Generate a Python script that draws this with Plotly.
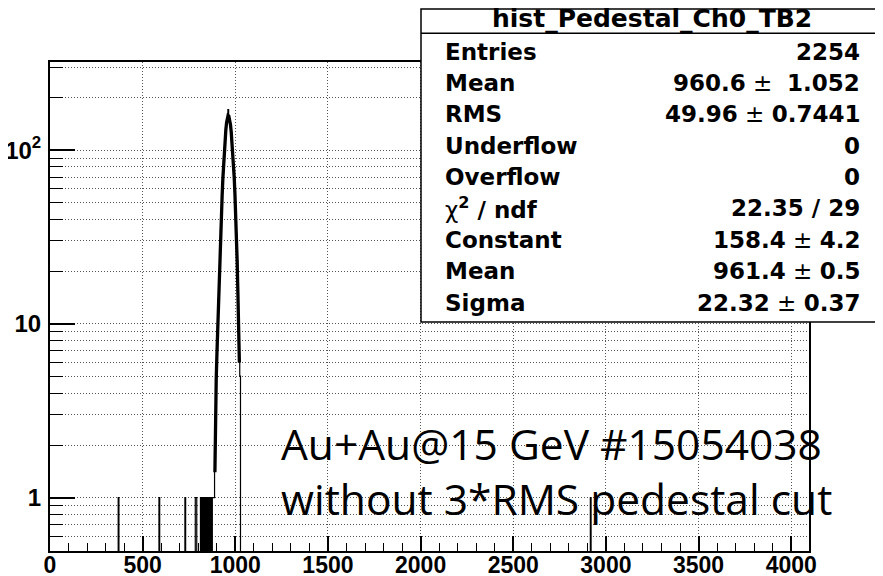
import numpy as np
import plotly.graph_objects as go

# ---------------- data ----------------
BIN_WIDTH = 4
X_MAX = 4096

# main pedestal peak: lower bin edges and counts
peak_bin_low = [880, 884, 888, 892, 896, 900, 904, 908, 912, 916,
                920, 924, 928, 932, 936, 940, 944, 948, 952, 956,
                960, 964, 968, 972, 976, 980, 984, 988, 992, 996,
                1000, 1004, 1008, 1012, 1016, 1020, 1024]
peak_counts = [1, 1, 2, 3, 5, 7, 10, 14, 20, 26,
               35, 45, 57, 72, 88, 103, 119, 133, 145, 154,
               171, 158, 150, 140, 127, 112, 98, 84, 70, 56,
               44, 33, 23, 15, 9, 6, 5]

# isolated single entries away from the peak
stray_bin_low = [368, 588, 728, 784, 788, 812, 820, 828, 836, 844, 852, 860, 868, 876, 2916]
stray_counts = [1, 1, 1, 1, 1, 1, 1, 1, 1, 1, 1, 1, 1, 1, 1]

# gaussian fit curve
fit_x = [890, 891, 893, 897, 901, 905, 909, 913, 917, 921, 925, 929, 933, 937, 941,
         945, 949, 953, 957, 961, 965, 970, 974, 978, 982, 986, 990, 994, 998, 1002,
         1006, 1010, 1014, 1018, 1022]
fit_y = [1.4, 2.2, 3.2, 4.8, 6.8, 9.5, 13.5, 18.5, 25, 33, 43, 55, 69, 84, 100,
         116, 131, 144, 153, 158.3, 157, 150, 140, 127, 112, 97, 84, 70, 56, 44,
         33, 23, 15, 9.5, 6]

# axis ticks
x_tick_vals = [0, 500, 1000, 1500, 2000, 2500, 3000, 3500, 4000]
y_tick_vals = [1, 10, 100]
y_tick_text = ["1", "10", "10<sup>2</sup>"]
y_minor_vals = [0.6, 0.7, 0.8, 0.9, 2, 3, 4, 5, 6, 7, 8, 9,
                20, 30, 40, 50, 60, 70, 80, 90, 200, 300]

# statistics box
stats_title = "hist_Pedestal_Ch0_TB2"
stat_labels = ["Entries", "Mean", "RMS", "Underflow", "Overflow",
               "χ<sup><b>2</b></sup><b> / ndf</b>", "Constant", "Mean", "Sigma"]
stat_values = ["<b>2254</b>", "<b>960.6</b> ±\u00a0 <b>1.052</b>", "<b>49.96</b> ± <b>0.7441</b>",
               "<b>0</b>", "<b>0</b>", "<b>22.35 / 29</b>", "<b>158.4</b> ± <b>4.2</b>",
               "<b>961.4</b> ± <b>0.5</b>", "<b>22.32</b> ± <b>0.37</b>"]

note_lines = ["Au+Au@15 GeV #15054038", "without 3*RMS pedestal cut"]

# ---------------- build histogram table ----------------
edges = np.arange(0, X_MAX + BIN_WIDTH, BIN_WIDTH)
counts = np.zeros(len(edges) - 1)
for b, c in zip(peak_bin_low + stray_bin_low, peak_counts + stray_counts):
    counts[b // BIN_WIDTH] = c
y_draw = np.where(counts > 0, counts, 1e-3)  # empty bins fall below the log range
y_step = np.append(y_draw, y_draw[-1])

fig = go.Figure()
fig.add_trace(go.Scatter(x=edges, y=y_step, mode="lines", line_shape="hv",
                         line=dict(color="black", width=1.2), hoverinfo="skip",
                         showlegend=False))
fig.add_trace(go.Scatter(x=fit_x, y=fit_y, mode="lines",
                         line=dict(color="black", width=3.3), hoverinfo="skip",
                         showlegend=False))

# ---------------- layout ----------------
# the page body adds an 8px offset; work in screen pixels and subtract it
OFF = 8
W, H = 883 - OFF, 576 - OFF
SL, ST, PW, PH = 50, 62, 759, 489          # plot area in screen pixels
PL, PT = SL - OFF, ST - OFF


def px(xs):
    return (xs - SL) / PW


def py(ys):
    return (ST + PH - ys) / PH


grid_kw = dict(showgrid=True, gridcolor="#555555", gridwidth=1, griddash="1px,2px")
xtickfont = dict(family="Liberation Sans", size=23, color="black", weight="bold")
ytickfont = dict(family="Liberation Sans", size=24, color="black", weight="bold")

fig.update_layout(
    width=W, height=H,
    margin=dict(l=PL, r=W - PL - PW, t=PT, b=H - PT - PH, pad=0, autoexpand=False),
    paper_bgcolor="white", plot_bgcolor="white",
    xaxis=dict(range=[0, X_MAX], tickmode="array", tickvals=x_tick_vals,
               ticks="inside", ticklen=15, tickwidth=1.5, tickcolor="black",
               showline=True, linecolor="black", linewidth=2, mirror=True,
               zeroline=False, tickfont=xtickfont, ticklabelstandoff=-8,
               automargin=False,
               minor=dict(dtick=100, tick0=0, ticks="inside", ticklen=8,
                          tickwidth=1.2, tickcolor="black", showgrid=False),
               **grid_kw),
    yaxis=dict(type="log", range=[-0.307, 2.507], tickmode="array",
               tickvals=y_tick_vals, ticktext=y_tick_text,
               ticks="inside", ticklen=25, tickwidth=1.5, tickcolor="black",
               showline=True, linecolor="black", linewidth=2, mirror=True,
               zeroline=False, tickfont=ytickfont, ticklabelstandoff=2,
               automargin=False,
               minor=dict(tickmode="array", tickvals=y_minor_vals, ticks="inside",
                          ticklen=13, tickwidth=1.2, tickcolor="black",
                          showgrid=True, gridcolor="#555555", gridwidth=1,
                          griddash="1px,2px"),
               **grid_kw),
)

# statistics box
bx0, bx1, by0, by1 = 421, 882, 9, 322
fig.add_shape(type="rect", xref="paper", yref="paper",
              x0=px(bx0), x1=px(bx1), y0=py(by1), y1=py(by0),
              line=dict(color="black", width=1.5), fillcolor="white", layer="above")
fig.add_shape(type="line", xref="paper", yref="paper",
              x0=px(bx0), x1=px(bx1), y0=py(33.3), y1=py(33.3),
              line=dict(color="black", width=1.5), layer="above")
fig.add_annotation(xref="paper", yref="paper", x=px((bx0 + bx1) / 2), y=py(19),
                   text="<b>" + stats_title + "</b>", showarrow=False,
                   xanchor="center", yanchor="middle", borderpad=0,
                   font=dict(family="DejaVu Sans", size=25, color="black"))
row_y0, row_dy = 51.7, 31.35
for i, (lab, val) in enumerate(zip(stat_labels, stat_values)):
    yy = py(row_y0 + i * row_dy)
    lab_txt = lab if "<b>" in lab else "<b>" + lab + "</b>"
    fig.add_annotation(xref="paper", yref="paper", x=px(444), y=yy, text=lab_txt,
                       showarrow=False, xanchor="left", yanchor="middle", borderpad=0,
                       font=dict(family="DejaVu Sans", size=23, color="black"))
    fig.add_annotation(xref="paper", yref="paper", x=px(861), y=yy, text=val,
                       showarrow=False, xanchor="right", yanchor="middle", borderpad=0,
                       font=dict(family="DejaVu Sans", size=23, color="black"))

# note text
for line, ymid in zip(note_lines, [443, 498]):
    fig.add_annotation(xref="paper", yref="paper", x=px(280), y=py(ymid), text=line,
                       showarrow=False, xanchor="left", yanchor="middle", borderpad=0,
                       font=dict(family="Open Sans", size=42.5, color="black"))

fig.write_html("out.html")
